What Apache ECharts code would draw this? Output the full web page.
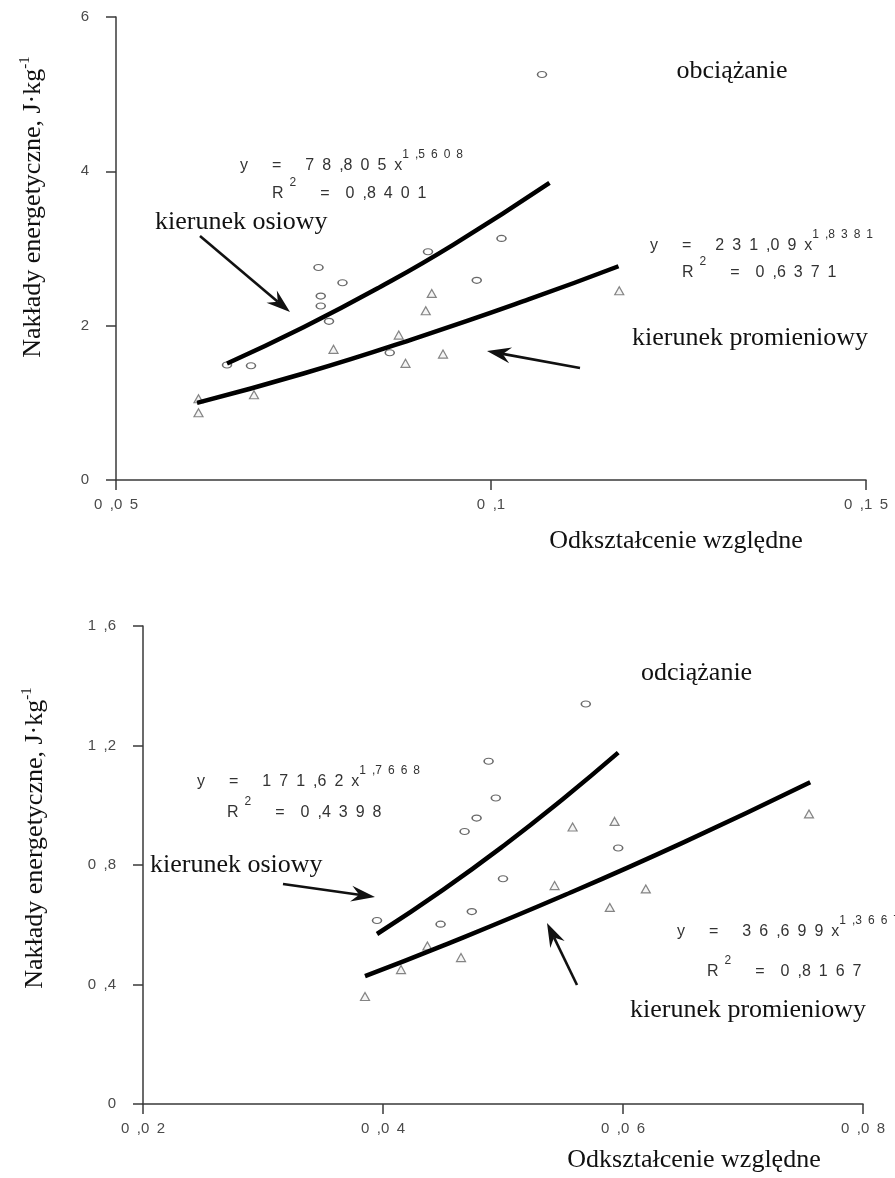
<!DOCTYPE html>
<html><head><meta charset="utf-8">
<script src="https://cdn.jsdelivr.net/npm/echarts@6/dist/echarts.min.js"></script>
<style>html,body{margin:0;padding:0;background:#fff}#c{width:895px;height:1178px}</style>
</head><body><div id="c"></div>
<script>
// ---------- DATA ----------
// Top panel: obciążanie
const topXTickLabels = ['0,05', '0,1', '0,15'];
const topYTickLabels = ['0', '2', '4', '6'];
const topCircles = [[0.0648,1.49],[0.068,1.48],[0.077,2.755],[0.0802,2.556],[0.0773,2.383],[0.0773,2.254],[0.0784,2.056],[0.0916,2.957],[0.0981,2.587],[0.0865,1.649],[0.1068,5.255],[0.1014,3.131]];
const topTriangles = [[0.061,1.053],[0.061,0.872],[0.0684,1.105],[0.079,1.693],[0.0877,1.878],[0.0886,1.512],[0.0913,2.193],[0.0921,2.418],[0.0936,1.632],[0.1171,2.452]];
const topTrendUpper = [[0.0648,1.51],[0.075,1.98],[0.085,2.49],[0.095,3.05],[0.1078,3.85]];
const topTrendLower = [[0.0608,1.0],[0.075,1.38],[0.09,1.84],[0.105,2.34],[0.117,2.77]];

// Bottom panel: odciążanie
const botXTickLabels = ['0,02', '0,04', '0,06', '0,08'];
const botYTickLabels = ['0', '0,4', '0,8', '1,2', '1,6'];
const botCircles = [[0.0569,1.339],[0.0488,1.147],[0.0494,1.024],[0.0478,0.957],[0.0468,0.912],[0.0596,0.857],[0.05,0.754],[0.0474,0.644],[0.0448,0.602],[0.0395,0.614]];
const botTriangles = [[0.0385,0.36],[0.0415,0.45],[0.0437,0.529],[0.0465,0.49],[0.0543,0.731],[0.0558,0.927],[0.0589,0.658],[0.0593,0.946],[0.0619,0.72],[0.0755,0.971]];
const botTrendUpper = [[0.0395,0.569],[0.045,0.717],[0.05,0.863],[0.055,1.021],[0.0596,1.176]];
const botTrendLower = [[0.0385,0.428],[0.045,0.53],[0.055,0.697],[0.065,0.875],[0.0756,1.077]];

// ---------- helpers ----------
const EN = '\u2002';
function sp(s) { // spaced look of the Excel labels
  return s.split('').map(c => c === ' ' ? EN : c).join(EN).replace(new RegExp(EN + ',' + EN, 'g'), EN + ',');
}
const SERIF = '"Liberation Serif", "Times New Roman", serif';
const SANS = '"Liberation Sans", Arial, sans-serif';
const ellipse = 'path://M-1,0a1,1 0 1,0 2,0a1,1 0 1,0 -2,0';

function axisCommon(labels) {
  return {
    type: 'value',
    axisLine: { show: true, onZero: false, lineStyle: { color: '#3a3a3a', width: 1.5 } },
    axisTick: { show: true, length: 10, lineStyle: { color: '#3a3a3a', width: 1.5 } },
    splitLine: { show: false },
    axisLabel: { color: '#4a4a4a', fontFamily: SANS, fontSize: 15,
      formatter: (v, i) => sp(labels[i] !== undefined ? labels[i] : String(v)) }
  };
}

function txt(x, y, text, font, align) {
  return { type: 'text', x: x, y: y, z: 10,
    style: { text: text, font: font, fill: '#111', textAlign: align || 'left', textVerticalAlign: 'middle' } };
}
const eqRich = {
  m: { fontFamily: SANS, fontSize: 16, fill: '#333', color: '#333', lineHeight: 34 },
  s: { fontFamily: SANS, fontSize: 12, fill: '#333', color: '#333', verticalAlign: 'top', lineHeight: 14 }
};
function eq(x, y, main, sup) {
  return { type: 'text', x: x, y: y, z: 10,
    style: { text: '{m|' + sp(main) + '}{s|' + sp(sup) + '}', textVerticalAlign: 'middle', textAlign: 'left', rich: eqRich } };
}
function r2(x, y, val) {
  return { type: 'text', x: x, y: y, z: 10,
    style: { text: '{m|R}{s|' + EN + '2}{m|' + EN + EN + EN + '=' + EN + EN + sp(val) + '}', textVerticalAlign: 'middle', textAlign: 'left', rich: eqRich } };
}
function yName(x, y) {
  return { type: 'text', x: x, y: y, rotation: Math.PI / 2, z: 10,
    style: { text: '{a|Nakłady energetyczne, J·kg}{b|-1}', textAlign: 'center', textVerticalAlign: 'middle',
      rich: { a: { fontFamily: SERIF, fontSize: 26, fill: '#111', color: '#111', lineHeight: 30 },
              b: { fontFamily: SERIF, fontSize: 15, fill: '#111', color: '#111', verticalAlign: 'top', lineHeight: 14 } } } };
}
function arrow(x1, y1, x2, y2) {
  const a = Math.atan2(y2 - y1, x2 - x1), c = Math.cos(a), s = Math.sin(a);
  const L = 24, W = 8, N = 16;
  const bx = x2 - L * c, by = y2 - L * s, nx = x2 - N * c, ny = y2 - N * s;
  return [
    { type: 'line', z: 10, shape: { x1: x1, y1: y1, x2: nx, y2: ny }, style: { stroke: '#111', lineWidth: 2.6 } },
    { type: 'polygon', z: 10, shape: { points: [[x2, y2], [bx - W * s, by + W * c], [nx, ny], [bx + W * s, by - W * c]] }, style: { fill: '#111' } }
  ];
}

const circleStyle = { color: '#fff', borderColor: '#444', borderWidth: 1.3 };
const triStyle = { color: '#f2f2f2', borderColor: '#666', borderWidth: 1.2 };
function scatter(data, xi, kind) {
  return { type: 'scatter', xAxisIndex: xi, yAxisIndex: xi, data: data, z: 2,
    symbol: kind === 'c' ? ellipse : 'triangle', symbolSize: kind === 'c' ? [9, 6] : [9, 8],
    itemStyle: kind === 'c' ? circleStyle : triStyle, silent: true };
}
function trend(data, xi) {
  return { type: 'line', xAxisIndex: xi, yAxisIndex: xi, data: data, z: 3, smooth: true,
    showSymbol: false, symbol: 'none', lineStyle: { color: '#000', width: 4.5 }, silent: true };
}

const chart = echarts.init(document.getElementById('c'), null, { renderer: 'canvas' });
const xTop = Object.assign(axisCommon(topXTickLabels), { gridIndex: 0, min: 0.05, max: 0.15, interval: 0.05 });
xTop.axisLabel.margin = 17;
const yTop = Object.assign(axisCommon(topYTickLabels), { gridIndex: 0, min: 0, max: 6, interval: 2 });
yTop.axisLabel.margin = 27;
const xBot = Object.assign(axisCommon(botXTickLabels), { gridIndex: 1, min: 0.02, max: 0.08, interval: 0.02 });
xBot.axisLabel.margin = 17;
const yBot = Object.assign(axisCommon(botYTickLabels), { gridIndex: 1, min: 0, max: 1.6, interval: 0.4 });
yBot.axisLabel.margin = 27;

const F = '26px ' + SERIF;
const graphics = [].concat(
  // top panel annotations
  [txt(732, 71, 'obciążanie', F, 'center'),
   eq(240, 166, 'y = 78,805x', '1,5608'),
   r2(272, 194, '0,8401'),
   txt(155, 222, 'kierunek osiowy', F),
   eq(650, 246, 'y = 231,09x', '1,8381'),
   r2(682, 273, '0,6371'),
   txt(632, 338, 'kierunek promieniowy', F),
   txt(676, 541, 'Odkształcenie względne', F, 'center'),
   yName(33, 207)],
  arrow(200, 236, 290, 312),
  arrow(580, 368, 487, 351),
  // bottom panel annotations
  [txt(641, 673, 'odciążanie', F),
   eq(197, 782, 'y = 171,62x', '1,7668'),
   r2(227, 813, '0,4398'),
   txt(150, 865, 'kierunek osiowy', F),
   eq(677, 932, 'y = 36,699x', '1,3667'),
   r2(707, 972, '0,8167'),
   txt(630, 1010, 'kierunek promieniowy', F),
   txt(694, 1160, 'Odkształcenie względne', F, 'center'),
   yName(35, 838)],
  arrow(283, 884, 375, 897),
  arrow(577, 985, 547, 923)
);

chart.setOption({
  animation: false,
  backgroundColor: '#fff',
  grid: [
    { left: 116, top: 17, width: 750, height: 463 },
    { left: 143, top: 626, width: 720, height: 478 }
  ],
  xAxis: [xTop, xBot],
  yAxis: [yTop, yBot],
  series: [
    scatter(topCircles, 0, 'c'), scatter(topTriangles, 0, 't'),
    trend(topTrendUpper, 0), trend(topTrendLower, 0),
    scatter(botCircles, 1, 'c'), scatter(botTriangles, 1, 't'),
    trend(botTrendUpper, 1), trend(botTrendLower, 1)
  ],
  graphic: graphics
});
</script></body></html>
